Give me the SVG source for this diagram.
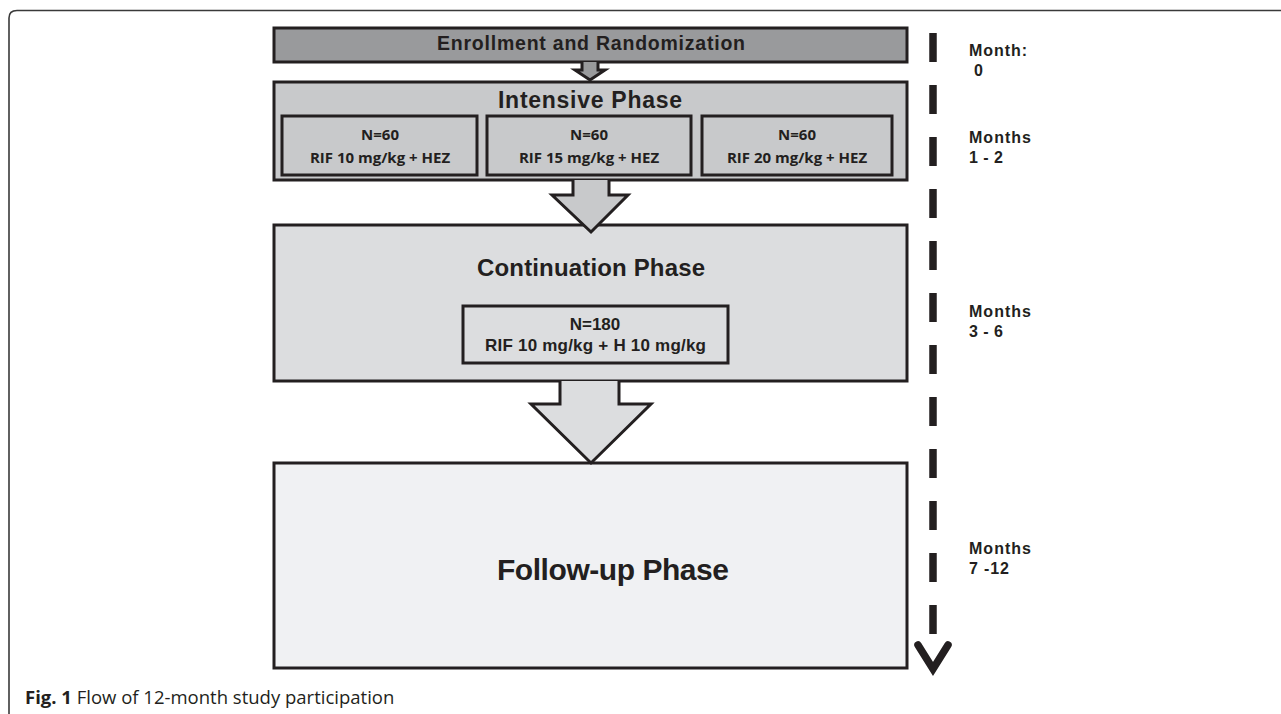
<svg xmlns="http://www.w3.org/2000/svg" width="1281" height="714" viewBox="0 0 1281 714">
<style>
.box{stroke:#231f20;stroke-width:3}
.t{font-family:"Liberation Sans",Arial,sans-serif;font-weight:bold;fill:#231f20;text-anchor:middle}
.c{font-family:"Open Sans","Liberation Sans",sans-serif;font-weight:bold;fill:#231f20;text-anchor:middle;font-size:15px}
.m{font-family:"Liberation Sans",Arial,sans-serif;font-weight:bold;fill:#231f20;font-size:16px}
.arr{stroke:#231f20;stroke-width:3;stroke-linejoin:miter}
</style>
<rect width="1281" height="714" fill="#ffffff"/>
<path d="M9,714 L9,18 Q9,10.5 17,10.5 L1281,10.5" fill="none" stroke="#3a3a3a" stroke-width="1.6"/>

<g id="enrollment">
<rect class="box" x="274" y="28" width="633" height="34" fill="#999a9c"/>
<text class="t" x="591" y="50" font-size="19.5" textLength="308">Enrollment and Randomization</text>
</g>

<g id="intensive">
<rect class="box" x="274" y="82" width="633" height="98" fill="#c8c9cb"/>
<text class="t" x="590" y="108" font-size="23" textLength="184">Intensive Phase</text>
<rect class="box" x="282" y="116" width="195" height="59" fill="#c8c9cb"/>
<text class="c" x="380" y="140">N=60</text>
<text class="c" x="380" y="163">RIF 10 mg/kg + HEZ</text>
<rect class="box" x="487" y="116" width="204" height="59" fill="#c8c9cb"/>
<text class="c" x="589" y="140">N=60</text>
<text class="c" x="589" y="163">RIF 15 mg/kg + HEZ</text>
<rect class="box" x="702" y="116" width="190" height="59" fill="#c8c9cb"/>
<text class="c" x="797" y="140">N=60</text>
<text class="c" x="797" y="163">RIF 20 mg/kg + HEZ</text>
</g>

<g id="continuation">
<rect class="box" x="274" y="225" width="633" height="156" fill="#dcdddf"/>
<text class="t" x="591" y="276" font-size="24" textLength="228">Continuation Phase</text>
<rect class="box" x="463" y="306" width="265" height="57" fill="#dcdddf"/>
<text class="t" x="595" y="330" font-size="17">N=180</text>
<text class="t" x="595.5" y="351" font-size="17" textLength="221">RIF 10 mg/kg + H 10 mg/kg</text>
</g>

<g id="followup">
<rect class="box" x="274" y="463" width="633" height="205" fill="#f0f1f3"/>
<text class="t" x="613" y="580" font-size="30" textLength="232">Follow-up Phase</text>
</g>

<g id="connectors">
<path class="arr" d="M582,62 L582,70 L575,70 L590,80 L605,70 L598,70 L598,62" fill="#999a9c"/>
<path class="arr" d="M573,180 L573,195 L552,195 L591,232 L628,195 L609,195 L609,180" fill="#c8c9cb"/>
<path class="arr" d="M560,381 L560,404 L531,404 L591,463 L651,404 L619,404 L619,381" fill="#dcdddf"/>
</g>

<g id="timeline">
<line x1="933" y1="33" x2="933" y2="634" stroke="#231f20" stroke-width="7.5" stroke-dasharray="29 23"/>
<polyline points="918,645 933,669 948,645" fill="none" stroke="#231f20" stroke-width="7.5" stroke-linecap="round" stroke-linejoin="miter"/>
<text class="m" x="969" y="56" textLength="58">Month:</text>
<text class="m" x="974" y="76">0</text>
<text class="m" x="969" y="143" textLength="62">Months</text>
<text class="m" x="969" y="163" textLength="34">1 - 2</text>
<text class="m" x="969" y="317" textLength="62">Months</text>
<text class="m" x="969" y="337" textLength="34">3 - 6</text>
<text class="m" x="969" y="554" textLength="62">Months</text>
<text class="m" x="969" y="574" textLength="40">7 -12</text>
</g>

<text x="25" y="704" font-family="'Open Sans','Liberation Sans',sans-serif" font-size="18.5" fill="#231f20"><tspan font-weight="bold">Fig. 1</tspan> Flow of 12-month study participation</text>
</svg>
